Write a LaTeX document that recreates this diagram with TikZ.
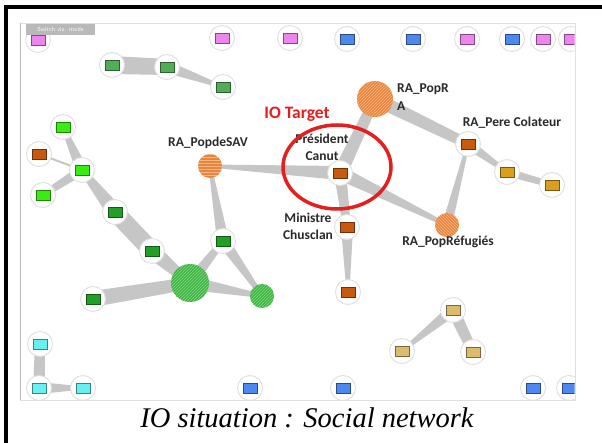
\documentclass[tikz,border=0pt]{standalone}
\usepackage{fontspec}
\setmainfont{Liberation Serif}
\newfontfamily\labfont{Carlito}
\usetikzlibrary{calc,patterns}
\definecolor{edgegray}{HTML}{C6C6C6}
\definecolor{cpink}{HTML}{EE84EE}
\definecolor{cblue}{HTML}{4D88F0}
\definecolor{cmgreen}{HTML}{52AE55}
\definecolor{cbgreen}{HTML}{38EE10}
\definecolor{cdgreen}{HTML}{22A026}
\definecolor{cbrown}{HTML}{C85A10}
\definecolor{cgold}{HTML}{D9A020}
\definecolor{ctan}{HTML}{DCBC6C}
\definecolor{ccyan}{HTML}{66F0F0}
\definecolor{corange}{HTML}{E8843C}
\definecolor{corangel}{HTML}{F7B888}
\definecolor{chgreen}{HTML}{3DB443}
\definecolor{chgreenl}{HTML}{86DA86}
\definecolor{labtext}{HTML}{2A2A2A}
\definecolor{tred}{HTML}{E51E1E}
\newcommand\tedge[4]{\fill[edgegray] ($(#1)!#3pt!90:(#2)$) -- ($(#2)!#4pt!-90:(#1)$) -- ($(#2)!#4pt!90:(#1)$) -- ($(#1)!#3pt!-90:(#2)$) -- cycle;}
\newcommand\nd[2]{\node[ring] (#1-r) at (#1) {}; \node[vbox, fill=#2, draw=#2!55!black] (#1-b) at (#1) {};}
\tikzset{
  ring/.style={circle, minimum size=25pt, inner sep=0, fill=white, draw=gray!25, line width=0.9pt},
  vbox/.style={rectangle, minimum width=14pt, minimum height=10pt, inner sep=0, line width=0.7pt},
  lab/.style={font=\labfont\bfseries\fontsize{13.5}{17.5}\selectfont, text=labtext, inner sep=0, align=center},
}
\begin{document}
\begin{tikzpicture}[x=1pt,y=-1pt]
\useasboundingbox (0,0) rectangle (602,443);
\fill[white] (0,0) rectangle (602,443);
% outer frame
\draw[line width=4pt] (4,7) -- (602,7);
\draw[line width=4pt] (6,5) -- (6,443);
% screenshot area
\draw[gray!25, line width=0.6pt] (20,23) rectangle (575,400);
\draw[gray!55, line width=1pt] (20,23) -- (20,400);
\begin{scope}
\clip (20.6,23.4) rectangle (574.6,400);
% coordinates
\coordinate (p1) at (38,40);
\coordinate (p2) at (222,38);
\coordinate (p3) at (290,38);
\coordinate (p4) at (467,39);
\coordinate (p5) at (543,39);
\coordinate (p6) at (571,39);
\coordinate (b1) at (347,39);
\coordinate (b2) at (413,39);
\coordinate (b3) at (512,39);
\coordinate (b4) at (250,388);
\coordinate (b5) at (343,388);
\coordinate (b6) at (533,388);
\coordinate (b7) at (569,388);
\coordinate (g1) at (112,65);
\coordinate (g2) at (167,67);
\coordinate (g3) at (223,87);
\coordinate (l1) at (63,127);
\coordinate (l2) at (82,170);
\coordinate (l3) at (43,195);
\coordinate (r1) at (39,154);
\coordinate (d1) at (115,212);
\coordinate (d2) at (152,251);
\coordinate (d3) at (223,241);
\coordinate (d4) at (93,299);
\coordinate (G) at (190,283);
\coordinate (S) at (262,296);
\coordinate (sav) at (210,166);
\coordinate (canut) at (340,173);
\coordinate (popra) at (375,99);
\coordinate (pere) at (468,144);
\coordinate (o1) at (507,172);
\coordinate (o2) at (552,185);
\coordinate (refu) at (447,225);
\coordinate (mini) at (347,227);
\coordinate (r2) at (348,292);
\coordinate (t1) at (453,310);
\coordinate (t2) at (402,351);
\coordinate (t3) at (473,352);
\coordinate (c1) at (40,344);
\coordinate (c2) at (39,388);
\coordinate (c3) at (83,388);
% edges
\tedge{g1}{g2}{9}{8}
\tedge{g2}{g3}{6}{1.5}
\tedge{l1}{l2}{2}{6}
\tedge{r1}{l2}{1}{1}
\tedge{l3}{l2}{3}{5}
\tedge{l2}{d1}{3}{8}
\tedge{d1}{d2}{9}{9}
\tedge{d2}{G}{8}{4}
\tedge{d4}{G}{8}{6}
\tedge{G}{d3}{6}{3}
\tedge{sav}{d3}{1.5}{6}
\tedge{d3}{S}{6}{2}
\tedge{G}{S}{7}{2}
\tedge{sav}{canut}{1.5}{7}
\tedge{canut}{popra}{7}{5}
\tedge{canut}{refu}{7}{2}
\tedge{canut}{mini}{6}{4}
\tedge{mini}{r2}{6}{1.5}
\tedge{popra}{pere}{7}{5}
\tedge{pere}{refu}{1.5}{5}
\tedge{pere}{o1}{5}{2}
\tedge{o1}{o2}{4}{3}
\tedge{t1}{t2}{6}{1.5}
\tedge{t1}{t3}{6}{5}
\tedge{c1}{c2}{5}{6}
\tedge{c2}{c3}{6}{1.5}
% nodes
\foreach \n in {p1,p2,p3,p4,p5,p6} {\nd{\n}{cpink}}
\foreach \n in {b1,b2,b3,b4,b5,b6,b7} {\nd{\n}{cblue}}
\foreach \n in {g1,g2,g3} {\nd{\n}{cmgreen}}
\foreach \n in {l1,l2,l3} {\nd{\n}{cbgreen}}
\foreach \n in {d1,d2,d3,d4} {\nd{\n}{cdgreen}}
\foreach \n in {r1,canut,pere,mini,r2} {\nd{\n}{cbrown}}
\foreach \n in {o1,o2} {\nd{\n}{cgold}}
\foreach \n in {t1,t2,t3} {\nd{\n}{ctan}}
\foreach \n in {c1,c2,c3} {\nd{\n}{ccyan}}
\node[circle, inner sep=0, minimum size=38pt, fill=chgreen, postaction={pattern=north east lines, pattern color=chgreenl}] (G-n) at (G) {};
\node[circle, inner sep=0, minimum size=24pt, fill=chgreen, postaction={pattern=north east lines, pattern color=chgreenl}] (S-n) at (S) {};
\node[circle, inner sep=0, minimum size=24pt, fill=corange, postaction={pattern=horizontal lines, pattern color=corangel}] (sav-n) at (sav) {};
\node[circle, inner sep=0, minimum size=36pt, fill=corange, postaction={pattern=north east lines, pattern color=corangel}] (popra-n) at (popra) {};
\node[circle, inner sep=0, minimum size=24pt, fill=corange, postaction={pattern=north west lines, pattern color=corangel}] (refu-n) at (refu) {};
% labels
\node[font=\sffamily\fontsize{6}{7}\selectfont, text=white, fill=gray!55, inner sep=1.5pt, minimum width=69pt, minimum height=11pt] (switch) at (60.5,29.5) {Switch viz. mode};
\node[lab, font=\labfont\bfseries\fontsize{17.5}{20}\selectfont, text=tred] (iot) at (297,114) {IO Target};
\node[lab] (labsav) at (208,143) {RA\_PopdeSAV};
\node[lab] (labcanut) at (322,147.5) {Président\\Canut};
\node[lab, anchor=west, align=left] (labpopra) at (397,97) {RA\_PopR\\A};
\node[lab] (labpere) at (512,123) {RA\_Pere Colateur};
\node[lab] (labrefu) at (448,242) {RA\_PopRéfugiés};
\node[lab] (labmini) at (308,226.5) {Ministre\\Chusclan};
\draw[tred, line width=3.5pt] (337,167) ellipse [x radius=54pt, y radius=42pt];
\end{scope}
% caption
\node[anchor=base, inner sep=0, font=\itshape\fontsize{28.5}{32}\selectfont] (cap) at (307,427) {IO situation : Social network};
\end{tikzpicture}
\end{document}
